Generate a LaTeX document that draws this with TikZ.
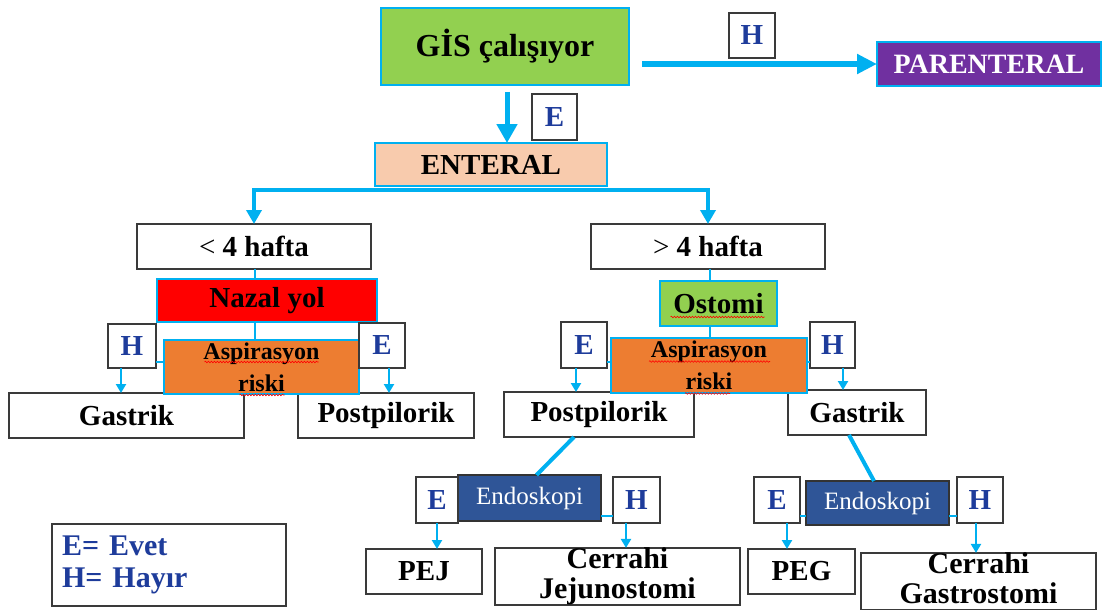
\documentclass[tikz,border=0pt]{standalone}
\usepackage{fontspec}
\setmainfont{Liberation Serif}
\usetikzlibrary{arrows.meta,calc,decorations.pathmorphing}
\definecolor{cblue}{HTML}{00B0F0}
\definecolor{cgreen}{HTML}{92D050}
\definecolor{cpurple}{HTML}{7030A0}
\definecolor{cpeach}{HTML}{F8CBAD}
\definecolor{corange}{HTML}{ED7D31}
\definecolor{cendo}{HTML}{2F5597}
\definecolor{ctext}{HTML}{1E3C9B}
\definecolor{cedge}{HTML}{3A3A3A}
\newcommand\boxat[7]{\node[#1, minimum width={#5-#3}, minimum height={#6-#4}] (#2) at ({(#3+#5)/2},{(#4+#6)/2}) {#7};}
\tikzset{
  base/.style={inner sep=0pt, outer sep=0pt, align=center, font=\bfseries\fontsize{29}{30}\selectfont},
  wbox/.style={base, draw=cedge, line width=1.5pt, fill=white},
  cbox/.style={base, draw=cblue, line width=1.5pt},
  lab/.style={base, draw=cedge, line width=1.5pt, fill=white, text=ctext},
  endo/.style={base, draw=black!80, line width=1.5pt, fill=cendo, text=white, font=\fontsize{25}{28}\selectfont},
  asp/.style={cbox, fill=corange, font=\bfseries\fontsize{24}{32}\selectfont},
  bigarrow/.style={draw=cblue, line width=6pt, -{Triangle[length=20pt,width=19pt]}},
  downarrow/.style={draw=cblue, line width=5pt, -{Triangle[length=19pt,width=20pt]}},
  brarrow/.style={draw=cblue, line width=4pt, -{Triangle[length=14pt,width=15pt]}},
  sarrow/.style={draw=cblue, line width=2.5pt, -{Triangle[length=9pt,width=10pt]}},
  conn/.style={draw=cblue, line width=2.5pt},
  diag/.style={draw=cblue, line width=4pt},
  squig/.style={draw=red, line width=0.6pt, decorate, decoration={snake, amplitude=0.8pt, segment length=3pt}}
}
\begin{document}
\begin{tikzpicture}[x=1pt,y=-1pt]
\useasboundingbox[fill=white] (0,0) rectangle (1104,610);
% top
\boxat{cbox, fill=cgreen, font=\bfseries\fontsize{32}{34}\selectfont}{gis}{381}{8}{629}{85}{GİS çalışıyor}
\boxat{cbox, fill=cpurple, text=white, font=\bfseries\fontsize{28}{30}\selectfont}{parent}{877}{42}{1101}{86}{PARENTERAL}
\boxat{cbox, fill=cpeach}{enteral}{375}{143}{607}{186}{ENTERAL}
\boxat{lab}{hTop}{729}{13}{775}{58}{H}
\boxat{lab}{eTop}{532}{94}{577}{140}{E}
% second level
\boxat{wbox}{lt}{137}{224}{371}{269}{{\mdseries <} 4 hafta}
\boxat{wbox}{gt}{591}{224}{825}{269}{{\mdseries >} 4 hafta}
\boxat{cbox, fill=red}{nazal}{157}{279}{377}{322}{Nazal yol}
\boxat{cbox, fill=cgreen}{ostomi}{660}{281}{777}{326}{Ostomi}
% third level boxes (drawn before aspiration boxes)
\boxat{wbox}{gL}{9}{393}{244}{438}{Gastrik}
\boxat{wbox}{ppL}{298}{393}{474}{438}{Postpilorik}
\boxat{wbox}{ppR}{504}{392}{694}{437}{Postpilorik}
\boxat{wbox}{gR}{788}{390}{926}{435}{Gastrik}
\boxat{asp}{aspL}{164}{340}{359}{394}{Aspirasyon\\riski}
\boxat{asp}{aspR}{611}{338}{807}{393}{Aspirasyon\\riski}
\boxat{lab}{hL1}{108}{324}{156}{368}{H}
\boxat{lab}{eL1}{359}{323}{405}{368}{E}
\boxat{lab}{eR2}{561}{322}{607}{368}{E}
\boxat{lab}{hR2}{810}{322}{855}{368}{H}
% endoscopy level
\boxat{endo}{endoL}{458}{475}{601}{521}{Endoskopi}
\boxat{endo}{endoR}{806}{481}{949}{525}{Endoskopi}
\boxat{lab}{eL3}{416}{477}{458}{523}{E}
\boxat{lab}{hL3}{613}{477}{660}{523}{H}
\boxat{lab}{eR3}{754}{477}{800}{523}{E}
\boxat{lab}{hR3}{957}{477}{1003}{523}{H}
\boxat{wbox}{pej}{366}{549}{482}{594}{PEJ}
\boxat{wbox, font=\bfseries\fontsize{30}{30}\selectfont}{cj}{495}{548}{740}{605}{Cerrahi\\Jejunostomi}
\boxat{wbox}{peg}{748}{549}{855}{594}{PEG}
\boxat{wbox, font=\bfseries\fontsize{30}{30}\selectfont}{cg}{861}{554}{1096}{609}{Cerrahi\\Gastrostomi\vphantom{j}}
% legend
\node[wbox, text=ctext, align=left, inner xsep=10pt, text width=214pt, minimum height=82pt, font=\bfseries\fontsize{30}{32}\selectfont] (legend) at (169,565) {E= Evet\\H= Hayır};
% connectors top
\draw[bigarrow] ($(gis.east |- parent.west)+(13,0)$) -- (parent.west);
\coordinate (d1) at ($(gis.south)+(2,7)$);
\draw[downarrow] (d1) -- (d1 |- enteral.north);
\draw[brarrow] ($(enteral.south)+(0,4)$) -| (lt.north);
\draw[brarrow] ($(enteral.south)+(0,4)$) -| (gt.north);
% left branch
\draw[conn] ($(lt.south)+(1,0)$) coordinate (v1) -- (v1 |- nazal.north);
\draw[conn] (v1 |- nazal.south) -- (v1 |- aspL.north);
\draw[conn] ($(hL1.south east)+(0,-6)$) -- ($(aspL.south west)+(0,-32)$);
\draw[sarrow] ($(hL1.south)+(-11,0)$) coordinate (t1) -- (t1 |- gL.north);
\draw[sarrow] ($(eL1.south)+(7,0)$) coordinate (t2) -- (t2 |- ppL.north);
% right branch
\draw[conn] ($(gt.south)+(2,0)$) coordinate (v2) -- (v2 |- ostomi.north);
\draw[conn] (v2 |- ostomi.south) -- (v2 |- aspR.north);
\draw[conn] ($(eR2.south east)+(0,-6)$) -- ($(aspR.south west)+(0,-31)$);
\draw[conn] ($(aspR.south east)+(0,-31)$) -- ($(hR2.south west)+(0,-6)$);
\draw[sarrow] ($(eR2.south)+(-8,0)$) coordinate (t3) -- (t3 |- ppR.north);
\draw[sarrow] ($(hR2.south)+(10.5,0)$) coordinate (t4) -- (t4 |- gR.north);
% endoscopy
\draw[diag] ($(ppR.south)+(-25,0)$) -- ($(endoL.north)+(7,0)$);
\draw[diag] ($(gR.south)+(-8,0)$) -- ($(endoR.north)+(-3.5,0)$);
\draw[conn] ($(endoL.south east)+(0,-5)$) -- ($(hL3.south west)+(0,-7)$);
\draw[conn] ($(eR3.south east)+(0,-7)$) -- ($(endoR.south west)+(0,-9)$);
\draw[conn] ($(endoR.south east)+(0,-9)$) -- ($(hR3.south west)+(0,-7)$);
\draw[sarrow] (eL3.south) -- (eL3.south |- pej.north);
\draw[sarrow] ($(hL3.south)+(-10.5,0)$) coordinate (t5) -- (t5 |- cj.north);
\draw[sarrow] ($(eR3.south)+(10,0)$) coordinate (t6) -- (t6 |- peg.north);
\draw[sarrow] ($(hR3.south)+(-4,0)$) coordinate (t7) -- (t7 |- cg.north);
% spelling squiggles
\draw[squig] ($(aspL.center)+(-57,-5)$) -- ++(114,0);
\draw[squig] ($(aspL.center)+(-22,28)$) -- ++(45,0);
\draw[squig] ($(aspR.center)+(-60,-4)$) -- ++(121,0);
\draw[squig] ($(aspR.center)+(-24,28)$) -- ++(45,0);
\draw[squig] ($(ostomi.center)+(-48,13.5)$) -- ++(94,0);
\end{tikzpicture}
\end{document}
